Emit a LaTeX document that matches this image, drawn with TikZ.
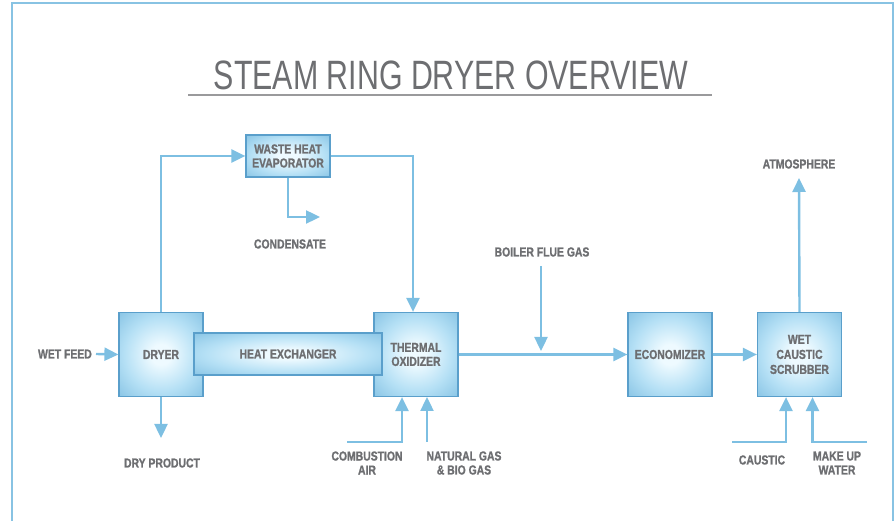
\documentclass[tikz,border=0pt]{standalone}
\usepackage{fontspec}
\setmainfont{Liberation Sans}
\newfontfamily\labfont[FakeStretch=0.8,FakeBold=1.2]{Liberation Sans Bold}
\newfontfamily\titfont[FakeStretch=0.74]{Liberation Sans}
\usetikzlibrary{arrows.meta}
\definecolor{txt}{HTML}{6D6E71}
\definecolor{flow}{HTML}{7DBFE2}
\definecolor{frame}{HTML}{88C3E3}
\definecolor{boxin}{HTML}{EEFAFF}
\definecolor{boxmid}{HTML}{B5E0F5}
\definecolor{boxout}{HTML}{7BBCE0}
\definecolor{boxline}{HTML}{5A9FCB}
\definecolor{rule}{HTML}{9A9A9C}
\pgfdeclareradialshading{boxsh}{\pgfpoint{0bp}{0bp}}{color(0bp)=(boxin); color(6bp)=(boxin); color(22bp)=(boxmid); color(40bp)=(boxout); color(50bp)=(boxout)}
\tikzset{
  unit/.style={draw=boxline, line width=1.2pt, shading=boxsh, minimum width=84pt, minimum height=84pt, inner sep=0pt, align=center, text=txt, font=\labfont\fontsize{13}{14}\selectfont},
  small/.style={unit, minimum height=42pt},
  flowline/.style={draw=flow, line width=2.4pt},
  flowarrow/.style={flowline, -{Triangle[width=13pt,length=14pt]}},
  lab/.style={text=txt, align=center, inner sep=0pt, font=\labfont\fontsize{13}{14}\selectfont}
}
\begin{document}
\begin{tikzpicture}[x=1pt,y=-1pt]
\useasboundingbox (0,0) rectangle (895,521);
% frame
\draw[frame, line width=2.2pt] (12,521) -- (12,3) -- (893,3) -- (893,521);
% title
\node[text=txt, inner sep=0pt, font=\titfont\fontsize{41}{41}\selectfont] (title) at (451,75) {STEAM RING DRYER OVERVIEW};
\draw[rule, line width=1.6pt] (188,95) -- (712,95);
% boxes
\node[small] (evap) at (288,156) {WASTE HEAT\\EVAPORATOR};
\node[unit] (dryer) at (161,354.5) {DRYER};
\node[unit] (to) at (416,354.5) {THERMAL\\OXIDIZER};
\node[small, minimum width=188pt] (hx) at (288,354) {HEAT EXCHANGER};
\node[unit] (econ) at (670,354.5) {ECONOMIZER};
\node[unit, font=\labfont\fontsize{13}{15}\selectfont] (scrub) at (799.5,354.5) {WET\\CAUSTIC\\SCRUBBER};
% labels
\node[lab, anchor=east] (wetfeed) at (92,354) {WET FEED};
\node[lab] (dryprod) at (162,463) {DRY PRODUCT};
\node[lab] (cond) at (290,244) {CONDENSATE};
\node[lab] (boiler) at (542,252) {BOILER FLUE GAS};
\node[lab] (atm) at (799,164) {ATMOSPHERE};
\node[lab] (cair) at (367,463) {COMBUSTION\\AIR};
\node[lab] (ngas) at (464,463) {NATURAL GAS\\\& BIO GAS};
\node[lab] (caus) at (762,460) {CAUSTIC};
\node[lab] (muw) at (837,463) {MAKE UP\\WATER};
% coordinates
\coordinate (wfs) at (96,354);
\coordinate (dpt) at (161,438);
\coordinate (cdt) at (320,217);
\coordinate (bfs) at (541,266);
\coordinate (bft) at (541,351);
\coordinate (att) at (799,178);
\coordinate (cas) at (347,442);
\coordinate (ngs) at (427,442);
\coordinate (ngt) at (427,397);
\coordinate (cau) at (732,442);
\coordinate (mus) at (867,442);
% connectors
\draw[flowarrow] (dryer.north) |- (evap.west);
\draw[flowarrow] (evap.east) -| ([xshift=-3pt]to.north);
\draw[flowarrow] (evap.south) |- (cdt);
\draw[flowarrow] (wfs) -- (dryer.west);
\draw[flowarrow] (dryer.south) -- (dpt);
\draw[flowarrow] (to.east) -- (econ.west);
\draw[flowarrow] (bfs) -- (bft);
\draw[flowarrow] (econ.east) -- (scrub.west);
\draw[flowarrow] (scrub.north) -- (att);
\draw[flowarrow] (cas) -| ([xshift=-14pt]to.south);
\draw[flowarrow] (ngs) -- (ngt);
\draw[flowarrow] (cau) -| ([xshift=-13.5pt]scrub.south);
\draw[flowarrow] (mus) -| ([xshift=13pt]scrub.south);
\end{tikzpicture}
\end{document}
